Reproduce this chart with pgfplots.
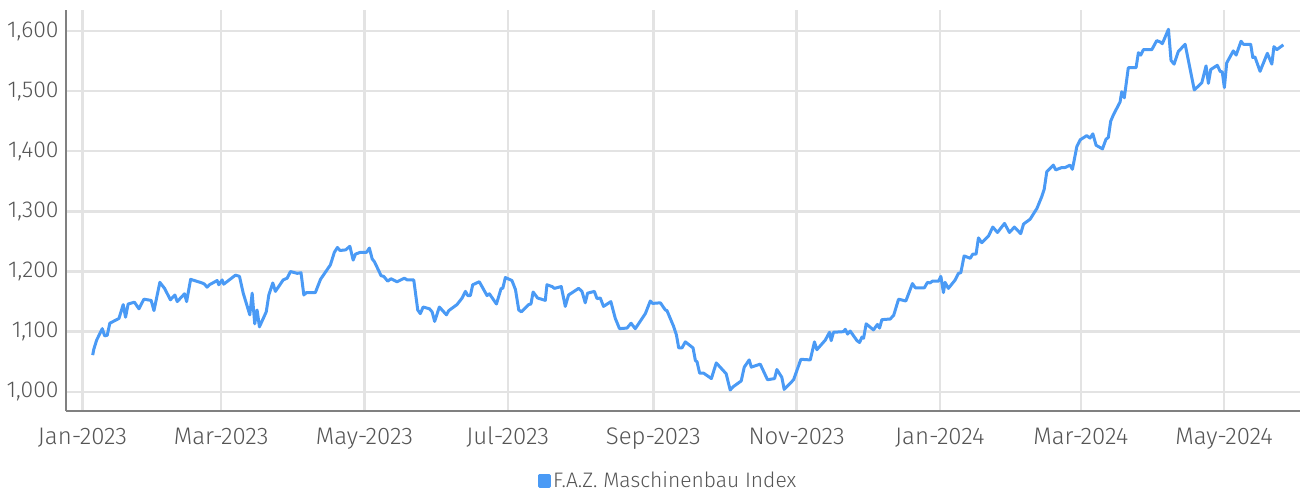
\documentclass[border=0pt]{standalone}
\usepackage{fontspec}
\setmainfont{Fira Sans}[UprightFont=* Light]
\usepackage{pgfplots}
\pgfplotsset{compat=1.18}
\definecolor{lineblue}{HTML}{4A9AF5}
\definecolor{gridgray}{HTML}{E3E3E3}
\definecolor{axisgray}{HTML}{808080}
\definecolor{labelgray}{HTML}{555555}
\begin{document}
\begin{tikzpicture}
\begin{axis}[
 name=ax,
 scale only axis, width=617.5pt, height=200.5pt,
 xmin=-7.2, xmax=518.3, ymin=968.4, ymax=1635,
 axis x line=bottom, axis y line=left,
 axis line style={axisgray, line width=0.9pt, -},
 xtick={0,59,120,181,243,304,365,425,486},
 xticklabels={Jan-2023,Mar-2023,May-2023,Jul-2023,Sep-2023,Nov-2023,Jan-2024,Mar-2024,May-2024},
 ytick={1000,1100,1200,1300,1400,1500,1600},
 /pgf/number format/assume math mode=true,
 /pgf/number format/1000 sep={,},
 grid=major, grid style={gridgray, line width=1.2pt},
 major tick length=0pt,
 tick label style={text=labelgray},
 xticklabel style={font=\fontsize{12}{14}\selectfont, anchor=base, yshift=-17pt},
 yticklabel style={font=\fontsize{11.5}{14}\selectfont},
 legend style={at={(0.488,-0.175)}, anchor=center, draw=none, fill=none,
   font=\fontsize{10.5}{13}\selectfont, text=labelgray, inner sep=0pt,
   nodes={inner sep=1pt}},
 legend image code/.code={\fill[lineblue] (0pt,-2.6pt) rectangle (5.2pt,2.6pt);},
]
\addplot[lineblue, line width=1.5pt, line join=round] coordinates {
(4.3,1061)(4.8,1071)(6,1086)(8.4,1105)(9.4,1093)(10.5,1094)(11.6,1114)(15.5,1122)
(17.3,1145)(18.3,1124)(19.4,1146)(22.1,1149)(24,1138)(26.1,1154)(29.2,1152)(30.4,1135)
(32.9,1182)(34.9,1172)(37.4,1153)(39.3,1161)(40.3,1150)(43.4,1163)(44.3,1150)(46,1187)
(50.9,1181)(51.9,1179)(53,1174)(54,1178)(57.3,1185)(58,1178)(59.4,1186)(60.1,1179)
(65.1,1194)(66.8,1192)(68.4,1164)(71.2,1128)(72.2,1164)(73.3,1113)(74.3,1136)(75.3,1108)
(78.2,1133)(79.3,1161)(81,1181)(82.1,1167)(85.4,1186)(87.1,1189)(88.5,1200)(91.4,1197)
(93,1198)(94.2,1161)(95.3,1165)(99.1,1165)(101.3,1187)(105.5,1211)(107.2,1232)(108.5,1240)
(109.6,1235)(112,1236)(113.8,1242)(115.2,1219)(116.2,1229)(118.3,1232)(120.9,1232)(122.1,1239)
(123.3,1221)(124.3,1216)(127.1,1193)(128.2,1192)(129.9,1184)(131.3,1188)(133.9,1183)(137,1189)
(138.2,1186)(141,1186)(142.7,1136)(143.8,1130)(145,1141)(147.7,1138)(148.8,1133)(149.9,1117)
(151.9,1141)(154.9,1128)(155.9,1135)(159.4,1145)(161.6,1156)(163,1167)(164,1160)(165.1,1160)
(166.1,1178)(168.9,1183)(172.2,1160)(173.2,1163)(176.2,1146)(178.2,1172)(178.9,1172)(180,1190)
(182.8,1185)(184.3,1170)(185.7,1136)(186.8,1133)(189.9,1145)(190.9,1146)(191.8,1166)(193.7,1156)
(197,1152)(197.7,1178)(199.9,1175)(200.9,1172)(203.8,1175)(205.5,1142)(206.9,1161)(211.2,1172)
(212.6,1167)(214,1148)(215,1164)(217.9,1167)(219,1155)(220.4,1156)(221.8,1142)(224.9,1150)
(226.8,1122)(228.6,1105)(231.8,1106)(233.5,1114)(235.3,1105)(239.6,1130)(241.7,1151)(242.7,1147)
(246,1148)(248.1,1136)(248.8,1135)(251.6,1109)(252.8,1095)(253.8,1073)(255.2,1073)(256.6,1083)
(259.9,1073)(260.9,1052)(261.6,1050)(262.7,1031)(264.4,1031)(267.7,1022)(269.8,1048)(274,1030)
(275.7,1003)(277.2,1009)(280.4,1018)(281.7,1041)(283.8,1053)(284.7,1041)(288.5,1046)(291.6,1020)
(294.6,1022)(295.6,1037)(297.7,1024)(298.7,1004)(302.7,1020)(305.8,1054)(309.8,1053)(311.6,1083)
(312.6,1070)(316.2,1086)(318,1099)(318.7,1085)(319.7,1099)(324,1100)(324.7,1104)(325.7,1096)
(326.8,1101)(329.7,1085)(330.8,1082)(331.8,1091)(332.5,1089)(333.6,1113)(336.7,1103)(338.4,1112)
(339.3,1106)(340.3,1120)(343.8,1121)(345.3,1127)(347.4,1154)(350.5,1151)(353.3,1180)(354.5,1173)
(358.4,1173)(359.7,1182)(360.8,1181)(361.8,1184)(364.4,1184)(365.4,1192)(366.5,1165)(367.2,1182)
(368.6,1172)(371.5,1186)(372.9,1197)(373.9,1198)(375.3,1226)(377.9,1222)(379,1229)(380.4,1229)
(381.4,1256)(382.8,1248)(385.7,1259)(387.5,1274)(389.5,1265)(392.5,1280)(394.6,1265)(396.7,1274)
(399.4,1263)(400.6,1279)(403.4,1287)(406.3,1305)(408.4,1325)(409.4,1337)(410.5,1366)(413.3,1377)
(414.3,1369)(416.9,1373)(418.3,1373)(420.4,1377)(421.4,1370)(423.3,1408)(424.7,1419)(427.5,1426)
(428.9,1422)(430.1,1429)(431.5,1410)(434.2,1404)(435.7,1420)(436.7,1423)(437.7,1450)(438.9,1461)
(441.7,1482)(442.4,1499)(443.5,1489)(445.2,1539)(448.5,1539)(449.5,1564)(450.5,1560)(451.6,1569)
(455.2,1569)(457.3,1584)(458.7,1582)(459.7,1579)(462.3,1603)(463.4,1551)(464.7,1545)(466.5,1566)
(469.4,1578)(471.2,1543)(473.3,1502)(476.5,1514)(478.3,1542)(479.3,1513)(480.3,1536)(483.1,1543)
(484.3,1533)(485.2,1532)(486.1,1506)(487.1,1547)(489.9,1567)(491.1,1560)(493.2,1583)(494.2,1578)
(497.3,1578)(498.2,1556)(499.1,1557)(501.3,1533)(504.4,1563)(506.3,1545)(507.2,1574)(508.4,1569)
(511.2,1577)
};
\addlegendentry{F.A.Z. Maschinenbau Index}
\end{axis}
\path ([xshift=-32.5pt,yshift=-41pt]ax.south west) rectangle ([xshift=3pt,yshift=5pt]ax.north east);
\end{tikzpicture}
\end{document}
